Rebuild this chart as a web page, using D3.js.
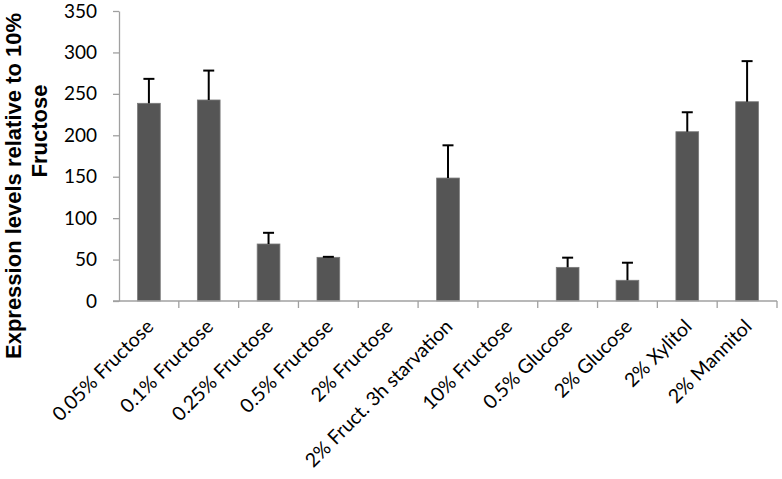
<!DOCTYPE html>
<html>
<head>
<meta charset="utf-8">
<script src="https://cdn.jsdelivr.net/npm/d3@7"></script>
<style>
  body { margin: 0; background: #fff; }
  svg { display: block; }
</style>
</head>
<body>
<svg id="chart" width="782" height="479"></svg>
<script>
// data
var categories = ["0.05% Fructose", "0.1% Fructose", "0.25% Fructose", "0.5% Fructose", "2% Fructose",
  "2% Fruct. 3h starvation", "10% Fructose", "0.5% Glucose", "2% Glucose", "2% Xylitol", "2% Mannitol"];
var values = [238.6, 242.6, 68.8, 52.7, 0, 148.4, 0, 40.6, 25, 204.3, 240.5];
var errors = [29.5, 35.5, 13.5, 0.6, 0, 39.5, 0, 11.7, 21.2, 23.5, 49];
var yTicks = [0, 50, 100, 150, 200, 250, 300, 350];

var svg = d3.select("#chart");
var plotLeft = 119, plotRight = 777, plotTop = 11, plotBottom = 301;

var x = d3.scaleBand().domain(categories).range([plotLeft, plotRight]).paddingInner(0.62).paddingOuter(0.31);
var y = d3.scaleLinear().domain([0, 350]).range([plotBottom, plotTop]);

var axisColor = "#a0a0a0";
var labelFont = "Lato, 'Open Sans', sans-serif";

// bars
svg.append("g").selectAll("rect")
  .data(values)
  .enter().append("rect")
  .attr("x", function(d, i) { return x(categories[i]); })
  .attr("y", function(d) { return y(d); })
  .attr("width", x.bandwidth())
  .attr("height", function(d) { return y(0) - y(d); })
  .attr("fill", "#555555")
  .attr("stroke", "#7a7a7a")
  .attr("stroke-width", 0.8);

// error bars (upper only)
var eb = svg.append("g").attr("stroke", "#000").attr("stroke-width", 2);
values.forEach(function(v, i) {
  if (v === 0) return;
  var cx = x(categories[i]) + x.bandwidth() / 2;
  eb.append("line").attr("x1", cx).attr("x2", cx).attr("y1", y(v)).attr("y2", y(v + errors[i]));
  eb.append("line").attr("x1", cx - 5.5).attr("x2", cx + 5.5).attr("y1", y(v + errors[i])).attr("y2", y(v + errors[i]));
});

// y axis
var yAxis = svg.append("g").attr("transform", "translate(" + plotLeft + ",0)")
  .call(d3.axisLeft(y).tickValues(yTicks).tickSize(6).tickPadding(16).tickSizeOuter(0));
yAxis.selectAll("path, line").attr("stroke", axisColor).attr("stroke-width", 1.3);
yAxis.selectAll("text").attr("font-family", labelFont).attr("font-size", "19px").attr("fill", "#000");

// x axis
var xEdges = d3.range(categories.length + 1).map(function(i) { return plotLeft + i * (plotRight - plotLeft) / categories.length; });
var xAxis = svg.append("g");
xAxis.append("line").attr("x1", plotLeft - 6).attr("x2", plotRight).attr("y1", plotBottom).attr("y2", plotBottom)
  .attr("stroke", axisColor).attr("stroke-width", 1.3);
xAxis.selectAll("line.tick").data(xEdges.slice(1)).enter().append("line")
  .attr("class", "tick")
  .attr("x1", function(d) { return d; }).attr("x2", function(d) { return d; })
  .attr("y1", plotBottom).attr("y2", plotBottom + 7)
  .attr("stroke", axisColor).attr("stroke-width", 1.3);

xAxis.selectAll("text").data(categories).enter().append("text")
  .attr("transform", function(d) {
    var cx = x(d) + x.bandwidth() / 2 + 1;
    return "translate(" + cx + "," + (plotBottom + 22) + ") rotate(-45)";
  })
  .attr("text-anchor", "end")
  .attr("dy", "0.35em")
  .attr("font-family", labelFont)
  .attr("font-size", "19.5px")
  .attr("fill", "#000")
  .text(function(d) { return d; });

// y axis title (two lines, as in the picture)
var titleFont = "'Liberation Sans', Arial, sans-serif";
svg.append("text")
  .attr("transform", "translate(21,186) rotate(-90)")
  .attr("text-anchor", "middle")
  .attr("font-family", titleFont).attr("font-weight", "bold").attr("font-size", "22px")
  .text("Expression levels relative to 10%");
svg.append("text")
  .attr("transform", "translate(47,131) rotate(-90)")
  .attr("text-anchor", "middle")
  .attr("font-family", titleFont).attr("font-weight", "bold").attr("font-size", "22px")
  .text("Fructose");
</script>
</body>
</html>
